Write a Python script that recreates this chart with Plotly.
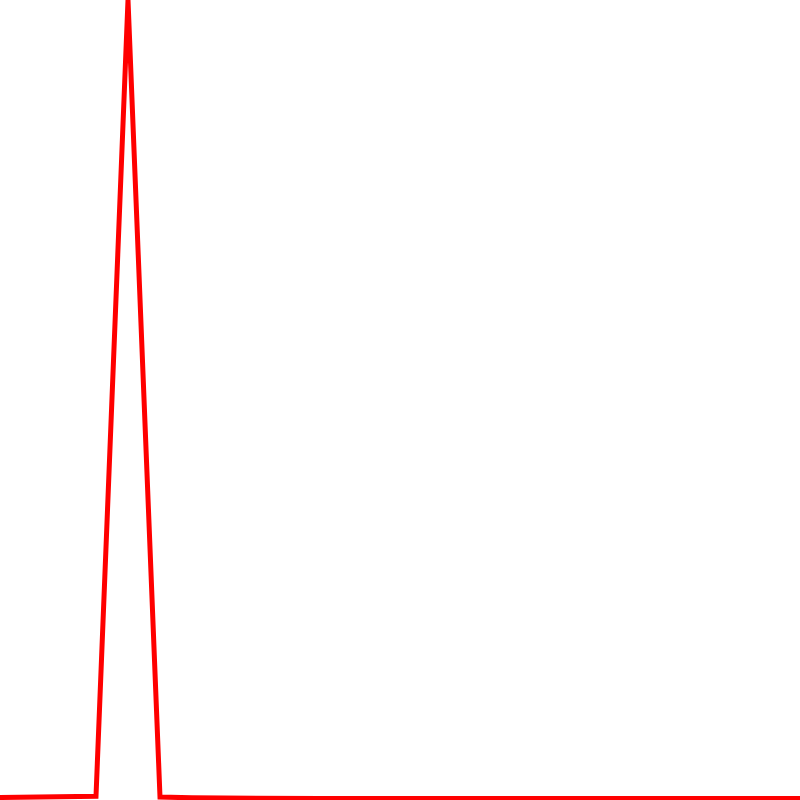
import plotly.graph_objects as go

x_values = list(range(26))
y_values = [0.31, 0.36, 0.41, 0.46, 100, 0.37, 0.27, 0.22, 0.2, 0.19,
            0.19, 0.19, 0.19, 0.19, 0.19, 0.19, 0.19, 0.19, 0.19, 0.19,
            0.19, 0.19, 0.19, 0.19, 0.19, 0.19]

fig = go.Figure(go.Scatter(x=x_values, y=y_values, mode="lines",
                           line=dict(color="red", width=5)))
fig.update_layout(width=800, height=800, margin=dict(l=0, r=0, t=0, b=0),
                  paper_bgcolor="white", plot_bgcolor="white", showlegend=False)
fig.update_xaxes(visible=False, range=[0, 25])
fig.update_yaxes(visible=False, range=[0, 100])
fig.write_html("out.html",
               config={"displayModeBar": False},
               post_script="document.body.style.margin='0';document.body.style.overflow='hidden';")
